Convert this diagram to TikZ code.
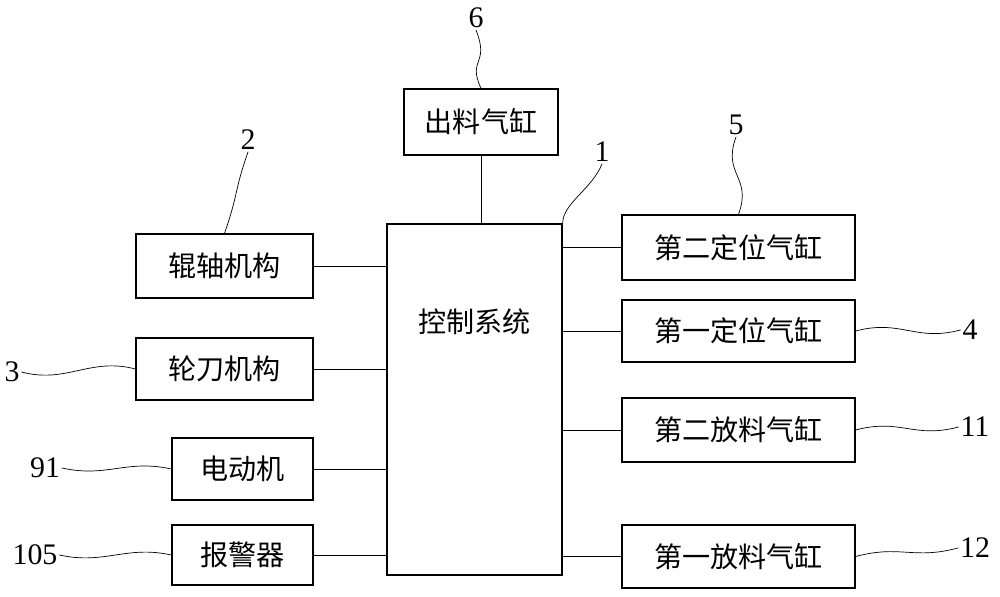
\documentclass[tikz,border=0pt]{standalone}
\usepackage{fontspec}
\setmainfont{Liberation Serif}
\newfontfamily\cjk{Noto Sans CJK SC}
\begin{document}
\begin{tikzpicture}[x={(0.02cm,0)},y={(0,-0.02cm)},line cap=round]
        % Styles
        \tikzstyle{block}=[draw,thick,inner sep=0pt,font=\cjk\fontsize{16}{16}\selectfont]
        \tikzstyle{number}=[inner sep=1pt,font=\fontsize{17}{17}\selectfont]
        \tikzstyle{link}=[thin]
        \useasboundingbox (0,0) rectangle (1000,597);
        %blocks
        \node[block,minimum width=3.08cm,minimum height=1.32cm] (out) at (481,122) {出料气缸};
        \node[block,minimum width=3.5cm,minimum height=7.02cm] (ctrl) at (474.5,399.5) {};
        \node[font=\cjk\fontsize{16}{16}\selectfont] (ctrltext) at (474.5,322) {控制系统};
        \node[block,minimum width=3.54cm,minimum height=1.28cm] (roll) at (224.5,266) {辊轴机构};
        \node[block,minimum width=3.54cm,minimum height=1.24cm] (knife) at (224.5,369) {轮刀机构};
        \node[block,minimum width=2.82cm,minimum height=1.24cm] (motor) at (242.5,469) {电动机};
        \node[block,minimum width=2.82cm,minimum height=1.2cm] (alarm) at (242.5,555) {报警器};
        \node[block,minimum width=4.66cm,minimum height=1.3cm] (posb) at (738.5,247.5) {第二定位气缸};
        \node[block,minimum width=4.66cm,minimum height=1.24cm] (posa) at (738.5,331) {第一定位气缸};
        \node[block,minimum width=4.66cm,minimum height=1.28cm] (feedb) at (738.5,430) {第二放料气缸};
        \node[block,minimum width=4.66cm,minimum height=1.26cm] (feeda) at (738.5,556.5) {第一放料气缸};
        %connections
        \draw[link] (out.south) -- (out.south |- ctrl.north);
        \foreach \b in {roll,knife,motor,alarm}
            \draw[link] (\b.east) -- (\b.east -| ctrl.west);
        \foreach \b in {posb,posa,feedb,feeda}
            \draw[link] (\b.west) -- (\b.west -| ctrl.east);
        %numbers
        \node[number] (n6) at (476,18) {6};
        \node[number] (n2) at (248,140) {2};
        \node[number] (n5) at (736,125) {5};
        \node[number] (n1) at (602,152) {1};
        \node[number] (n3) at (12,372) {3};
        \node[number] (n91) at (45,468) {91};
        \node[number] (n105) at (35,555) {105};
        \node[number] (n4) at (970,330) {4};
        \node[number] (n11) at (975,427) {11};
        \node[number] (n12) at (975,548) {12};
        \coordinate (c1) at (ctrl.north east);
        %leaders
        \draw[link] (n6.south) .. controls +(14,35) and +(-14,-30) .. (out.north);
        \draw[link] (n2.south) .. controls +(-14,40) and +(14,-40) .. (roll.north);
        \draw[link] (n5.south) .. controls +(-14,38) and +(14,-38) .. (posb.north);
        \draw[link] (n1.south) .. controls +(-10,25) and +(0,-20) .. (c1);
        \draw[link] (n3.east) .. controls +(45,12) and +(-45,-12) .. (knife.west);
        \draw[link] (n91.east) .. controls +(45,10) and +(-45,-10) .. (motor.west);
        \draw[link] (n105.east) .. controls +(45,10) and +(-45,-10) .. (alarm.west);
        \draw[link] (posa.east) .. controls +(45,-12) and +(-45,12) .. (n4.west);
        \draw[link] (feedb.east) .. controls +(45,-12) and +(-45,12) .. (n11.west);
        \draw[link] (feeda.east) .. controls +(45,-12) and +(-45,12) .. (n12.west);
\end{tikzpicture}
\end{document}
